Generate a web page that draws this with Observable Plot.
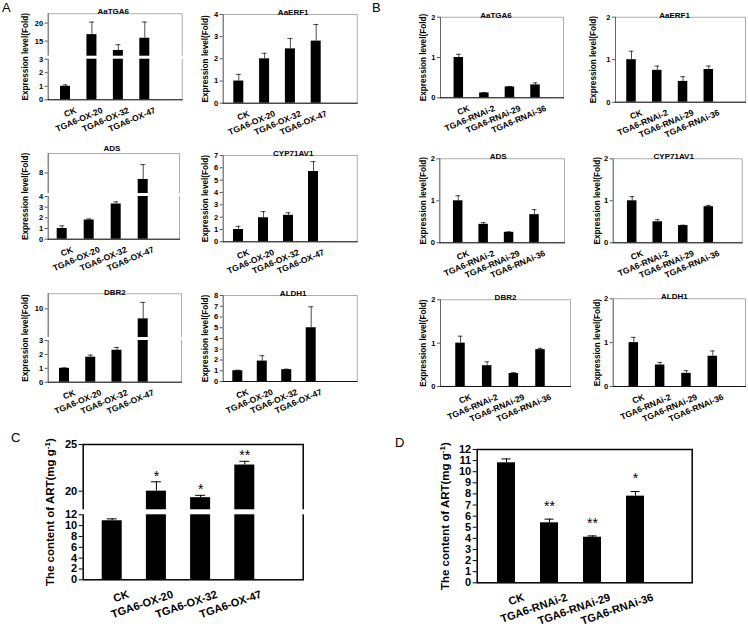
<!DOCTYPE html>
<html><head><meta charset="utf-8">
<script src="https://cdn.jsdelivr.net/npm/d3@7"></script>
<script src="https://cdn.jsdelivr.net/npm/@observablehq/plot@0.6"></script>
<style>
html,body{margin:0;padding:0;background:#fff;}
#fig{position:relative;width:748px;height:630px;overflow:hidden;background:#fff;font-family:"Liberation Sans",Arial,sans-serif;}
.plab{position:absolute;font-size:13px;line-height:13px;color:#000;}
</style></head><body><div id="fig"></div>
<script>
// ---------- categories & labels ----------
const oxCats = ["CK", "TGA6-OX-20", "TGA6-OX-32", "TGA6-OX-47"];
const riCats = ["CK", "TGA6-RNAi-2", "TGA6-RNAi-29", "TGA6-RNAi-36"];
const exprLabel = "Expression level(Fold)";
const artLabel = "The content of ART(mg g-1)";

// ---------- A: overexpression lines (fold) ----------
const oxTGA6 = [1.0, 16.8, 12.4, 15.8];
const oxTGA6Err = [0.1, 3.5, 1.6, 4.5];
const oxERF1 = [1.0, 2.0, 2.45, 2.8];
const oxERF1Err = [0.3, 0.25, 0.47, 0.75];
const oxADS = [1.0, 1.8, 3.3, 6.8];
const oxADSErr = [0.25, 0.1, 0.2, 2.75];
const oxCYP = [1.0, 1.95, 2.15, 5.7];
const oxCYPErr = [0.25, 0.5, 0.2, 0.8];
const oxDBR2 = [1.0, 1.8, 2.3, 8.6];
const oxDBR2Err = [0.03, 0.15, 0.2, 2.3];
const oxALDH1 = [1.0, 1.9, 1.1, 5.0];
const oxALDH1Err = [0.05, 0.5, 0.05, 1.95];

// ---------- B: RNAi lines (fold) ----------
const riTGA6 = [1.0, 0.12, 0.27, 0.32];
const riTGA6Err = [0.08, 0.01, 0.01, 0.05];
const riERF1 = [1.0, 0.75, 0.49, 0.77];
const riERF1Err = [0.2, 0.1, 0.11, 0.08];
const riADS = [1.0, 0.44, 0.25, 0.67];
const riADSErr = [0.12, 0.04, 0.01, 0.12];
const riCYP = [1.0, 0.5, 0.41, 0.86];
const riCYPErr = [0.1, 0.05, 0.01, 0.03];
const riDBR2 = [1.0, 0.48, 0.3, 0.85];
const riDBR2Err = [0.16, 0.09, 0.02, 0.03];
const riALDH1 = [1.0, 0.49, 0.3, 0.69];
const riALDH1Err = [0.12, 0.06, 0.06, 0.12];

// ---------- C / D: artemisinin content ----------
const artOX = [10.9, 20.0, 19.3, 22.8];
const artOXErr = [0.35, 1.0, 0.25, 0.4];
const artOXSig = ["", "*", "*", "**"];
const artRI = [10.8, 5.4, 4.1, 7.8];
const artRIErr = [0.35, 0.33, 0.12, 0.42];
const artRISig = ["", "**", "**", "*"];

// ---------- axis domains (broken axes have 4 breakpoints) & tick labels ----------
const domOxTGA6 = [0, 3, 10.8, 22.6];
const domOxADS = [0, 4, 4.2, 11.6];
const domOxDBR2 = [0, 3, 6, 12.1];
const domArtOX = [0, 12, 18, 25];
const ticksOxTGA6 = [0, 1, 2, 3, 15, 20];
const ticksOxERF1 = [0, 1, 2, 3, 4];
const ticksOxADS = [0, 1, 2, 3, 4, 8];
const ticksOxCYP = [0, 1, 2, 3, 4, 5, 6, 7];
const ticksOxDBR2 = [0, 1, 2, 3, 10];
const ticksOxALDH1 = [0, 1, 2, 3, 4, 5, 6, 7, 8];
const ticksRI = [0, 1, 2];
const ticksArtOX = [0, 2, 4, 6, 8, 10, 12, 20, 25];
const ticksArtRI = [0, 1, 2, 3, 4, 5, 6, 7, 8, 9, 10, 11, 12];

const fig = document.getElementById("fig");
const FONT = "Liberation Sans, Arial, Helvetica, sans-serif";

function panel(p) {
  const [L, T, R, B] = p.box;
  const W = R - L, H = B - T;
  const big = !!p.big;
  const step = (p.c[1] - p.c[0]) / 3;
  const pad = 1 - p.bw / step;
  const capIn = (p.bw - p.bw * 0.5) / 2;
  const data = p.cats.map((cat, i) => ({
    cat, v: p.vals[i], top: p.vals[i] + p.errs[i], sig: p.sig ? p.sig[i] : ""
  }));
  const broken = p.yDom.length === 4;
  const fs = big ? {tick: 11, x: 11, yl: 11.5} : {tick: 7.5, x: 8.5, yl: 8.2};
  const marks = [];
  if (big) {
    marks.push(Plot.frame({stroke: "black", strokeWidth: 1.5}));
  } else {
    marks.push(Plot.frame({stroke: "#9a9a9a", strokeWidth: 0.8}));
    marks.push(Plot.frame({anchor: "left", stroke: "#555", strokeWidth: 0.8}));
    marks.push(Plot.frame({anchor: "bottom", stroke: "#000", strokeWidth: 0.9}));
  }
  marks.push(Plot.barY(data, {x: "cat", y: "v", fill: "black"}));
  marks.push(Plot.ruleX(data, {x: "cat", y1: "v", y2: "top", stroke: "black", strokeWidth: big ? 1 : 0.7}));
  marks.push(Plot.tickY(data, {x: "cat", y: "top", stroke: "black", strokeWidth: big ? 1 : 0.7, insetLeft: capIn, insetRight: capIn}));
  if (broken) {
    marks.push(Plot.rect([0], {y1: p.yDom[1], y2: p.yDom[2], fill: "white", insetLeft: -4, insetRight: -4}));
  }
  if (p.sig) {
    marks.push(Plot.text(data, {x: "cat", y: "top", text: "sig", dy: p.sigDy, fontSize: 14, lineAnchor: "bottom"}));
  }
  marks.push(Plot.axisY(p.ticks, {
    tickSize: big ? 4 : 3, tickPadding: 2, fontSize: fs.tick, fontWeight: "bold", label: null,
    stroke: big ? "black" : "#555"
  }));
  marks.push(Plot.axisX({
    tickSize: 0, tickRotate: p.rot, textAnchor: "end", lineAnchor: "top",
    tickPadding: 2, dx: p.xdx, dy: p.xdy, fontSize: fs.x, fontWeight: "bold", label: null
  }));
  marks.push(Plot.text([p.ylabel], {
    frameAnchor: "left", textAnchor: "middle", lineAnchor: "middle", rotate: -90,
    dx: -p.ylOff, fontSize: fs.yl, fontWeight: "bold"
  }));
  if (p.title) {
    marks.push(Plot.text([p.title], {
      frameAnchor: "top", textAnchor: "middle", dx: p.tdx || 0, dy: p.tdy, fontSize: 8, fontWeight: "bold"
    }));
  }
  const svg = Plot.plot({
    width: W, height: H,
    marginLeft: p.fx[0] - L, marginRight: R - p.fx[1],
    marginTop: p.fy[0] - T, marginBottom: B - p.fy[1],
    x: {type: "band", domain: p.cats, range: [p.c[0] - step / 2 - L, p.c[1] + step / 2 - L],
        paddingInner: pad, paddingOuter: pad / 2, round: false},
    y: {type: "linear", domain: p.yDom, range: p.yRange.map(v => v - T)},
    style: {fontFamily: FONT, background: "none", overflow: "visible", color: "black"},
    marks
  });
  svg.style.position = "absolute";
  svg.style.left = L + "px";
  svg.style.top = T + "px";
  svg.style.maxWidth = "none";
  // superscript for the unit in the ART label
  svg.querySelectorAll("text").forEach(t => {
    if (t.textContent === artLabel) {
      t.textContent = "";
      const ns = "http://www.w3.org/2000/svg";
      const a = document.createElementNS(ns, "tspan"); a.textContent = "The content of ART(mg g";
      const b = document.createElementNS(ns, "tspan"); b.textContent = "-1"; b.setAttribute("dy", "-4"); b.setAttribute("font-size", "8");
      const c = document.createElementNS(ns, "tspan"); c.textContent = ")"; c.setAttribute("dy", "4");
      t.append(a, b, c);
    }
  });
  fig.appendChild(svg);
}

const small = {bw: 10, rot: -23, xdx: 9, xdy: 5, ylabel: exprLabel, tdy: -5};
const smallB = {bw: 9.5, rot: -23, xdx: 9, xdy: 5, ylabel: exprLabel, tdy: -5, ticks: ticksRI, yDom: [0, 2], cats: riCats};
const specs = [
  {...small, box: [0, 0, 186, 138], fx: [47.7, 181.7], fy: [13.3, 99.3], c: [65, 144.3], cats: oxCats, vals: oxTGA6, errs: oxTGA6Err, title: "AaTGA6", tdx: -2, yDom: domOxTGA6, yRange: [99.3, 58.7, 55.7, 13.3], ticks: ticksOxTGA6, ylOff: 22.7},
  {...small, box: [186, 0, 372, 138], fx: [222.7, 356.7], fy: [14, 102.7], c: [238.3, 315.7], cats: oxCats, vals: oxERF1, errs: oxERF1Err, title: "AaERF1", tdx: 3, yDom: [0, 4], yRange: [102.7, 14], ticks: ticksOxERF1, ylOff: 17.7},
  {...small, box: [0, 140, 186, 278], fx: [47.7, 179], fy: [153, 238.7], c: [61.7, 142.7], cats: oxCats, vals: oxADS, errs: oxADSErr, title: "ADS", tdx: -2, tdy: -8, yDom: domOxADS, yRange: [238.7, 196, 193, 153], ticks: ticksOxADS, ylOff: 22.7},
  {...small, box: [186, 140, 372, 278], fx: [222.7, 356.7], fy: [155, 241.3], c: [238, 313], cats: oxCats, vals: oxCYP, errs: oxCYPErr, title: "CYP71AV1", tdx: 3, yDom: [0, 7], yRange: [241.3, 155], ticks: ticksOxCYP, ylOff: 17.7},
  {...small, box: [0, 280, 186, 418], fx: [47.7, 181], fy: [293.3, 381.7], c: [64, 142.7], cats: oxCats, vals: oxDBR2, errs: oxDBR2Err, title: "DBR2", tdx: 0, tdy: -4, yDom: domOxDBR2, yRange: [381.7, 340, 337, 293.3], ticks: ticksOxDBR2, ylOff: 22.7},
  {...small, box: [186, 280, 372, 418], fx: [222.7, 356.7], fy: [295, 381], c: [237.3, 310.7], cats: oxCats, vals: oxALDH1, errs: oxALDH1Err, title: "ALDH1", tdx: 3, yDom: [0, 8], yRange: [381, 295], ticks: ticksOxALDH1, ylOff: 17.7},
  {...smallB, box: [405, 0, 580, 140], fx: [440, 563], fy: [16.7, 97.3], c: [458.3, 535], vals: riTGA6, errs: riTGA6Err, title: "AaTGA6", tdx: -6, yRange: [97.3, 16.7], ylOff: 16.7},
  {...smallB, box: [580, 0, 748, 140], fx: [615, 745], fy: [16.7, 101.7], c: [631, 708.3], vals: riERF1, errs: riERF1Err, title: "AaERF1", tdx: -6, yRange: [101.7, 16.7], ylOff: 21.7},
  {...smallB, box: [405, 140, 580, 280], fx: [439.3, 564], fy: [158.3, 242.3], c: [457.7, 534], vals: riADS, errs: riADSErr, title: "ADS", tdx: -4, yRange: [242.3, 158.3], ylOff: 16},
  {...smallB, box: [580, 140, 748, 280], fx: [612.7, 741.7], fy: [158.3, 242.3], c: [631.7, 708.3], vals: riCYP, errs: riCYPErr, title: "CYP71AV1", tdx: -4, yRange: [242.3, 158.3], ylOff: 16},
  {...smallB, box: [405, 280, 580, 420], fx: [440, 570], fy: [299.3, 386], c: [460, 540], vals: riDBR2, errs: riDBR2Err, title: "DBR2", tdx: 0, yRange: [386, 299.3], ylOff: 16.7},
  {...smallB, box: [580, 280, 748, 420], fx: [612.7, 745], fy: [298.3, 386], c: [633.3, 712.3], vals: riALDH1, errs: riALDH1Err, title: "ALDH1", tdx: -5, yRange: [386, 298.3], ylOff: 16},
  {big: true, box: [30, 428, 380, 630], fx: [82.7, 302.7], fy: [444, 579.3], c: [111.7, 244.3], bw: 20, rot: -19, xdx: 15, xdy: 8, cats: oxCats, vals: artOX, errs: artOXErr, sig: artOXSig, sigDy: -1, yDom: domArtOX, yRange: [579.3, 514.3, 509.3, 444], ticks: ticksArtOX, ylabel: artLabel, ylOff: 32.7},
  {big: true, box: [425, 428, 748, 630], fx: [476.7, 691.7], fy: [449, 582.3], c: [506, 635], bw: 18, rot: -19, xdx: 16, xdy: 8, cats: riCats, vals: artRI, errs: artRIErr, sig: artRISig, sigDy: -8, yDom: [0, 12], yRange: [582.3, 449], ticks: ticksArtRI, ylabel: artLabel, ylOff: 31.7}
];
specs.forEach(panel);

[["A", 2, 1], ["B", 372, 1], ["C", 11, 431], ["D", 395, 436]].forEach(([t, x, y]) => {
  const d = document.createElement("div");
  d.className = "plab"; d.textContent = t;
  d.style.left = x + "px"; d.style.top = y + "px";
  fig.appendChild(d);
});
</script></body></html>
